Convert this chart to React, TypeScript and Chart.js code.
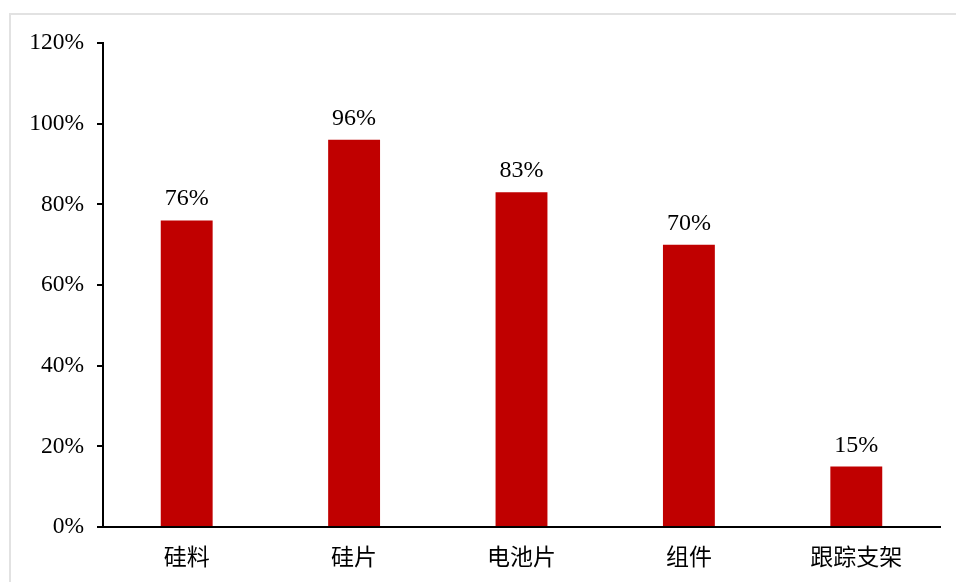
import React, { useEffect, useRef } from "react";
import { Chart, registerables } from "chart.js";

Chart.register(...registerables);

const categories = ["硅料", "硅片", "电池片", "组件", "跟踪支架"];
const shares = [76, 96, 83, 70, 15];
const yTicks = [0, 20, 40, 60, 80, 100, 120];

const valueLabels = {
  id: "valueLabels",
  afterDatasetsDraw(chart: any) {
    const ctx = chart.ctx;
    const meta = chart.getDatasetMeta(0);
    ctx.save();
    ctx.fillStyle = "#000";
    ctx.font = '24px "Liberation Serif", "Times New Roman", serif';
    ctx.textAlign = "center";
    ctx.textBaseline = "alphabetic";
    meta.data.forEach((bar: any, i: number) => {
      ctx.fillText(shares[i] + "%", bar.x, bar.y - 15);
    });
    ctx.restore();
  },
};

export default function App() {
  const ref = useRef<HTMLCanvasElement>(null);
  useEffect(() => {
    document.body.style.margin = "0";
    const chart = new Chart(ref.current!, {
      type: "bar",
      data: {
        labels: categories,
        datasets: [
          {
            data: shares,
            backgroundColor: "#C00000",
            categoryPercentage: 1,
            barPercentage: 0.31,
          },
        ],
      },
      options: {
        animation: false,
        responsive: false,
        layout: { padding: { top: 43, right: 16, left: 0, bottom: 0 } },
        plugins: { legend: { display: false }, tooltip: { enabled: false } },
        scales: {
          x: {
            grid: { display: false, drawTicks: false },
            border: { display: true, color: "#000", width: 2 },
            ticks: {
              color: "#000",
              padding: 15,
              font: { family: '"Noto Sans CJK SC", sans-serif', size: 23 },
            },
            afterFit: (s: any) => {
              s.height = 55;
            },
          },
          y: {
            min: 0,
            max: 120,
            afterBuildTicks: (s: any) => {
              s.ticks = yTicks.map((v) => ({ value: v }));
            },
            grid: {
              display: true,
              drawOnChartArea: false,
              drawTicks: true,
              tickLength: 6,
              color: "#000",
              lineWidth: 2,
            },
            border: { display: true, color: "#000", width: 2 },
            ticks: {
              color: "#000",
              padding: 13,
              callback: (v: any) => v + "%",
              font: { family: '"Liberation Serif", "Times New Roman", serif', size: 23.5 },
            },
            afterFit: (s: any) => {
              s.width = 103;
            },
          },
        },
      },
      plugins: [valueLabels],
    });
    return () => chart.destroy();
  }, []);
  return (
    <div style={{ position: "relative", width: 956, height: 582, background: "#fff", overflow: "hidden" }}>
      <canvas ref={ref} width={956} height={582} style={{ display: "block" }} />
      <div
        style={{
          position: "absolute",
          left: 9,
          top: 13,
          width: 1000,
          height: 1000,
          borderTop: "2px solid #e2e2e2",
          borderLeft: "2px solid #e2e2e2",
          pointerEvents: "none",
        }}
      />
    </div>
  );
}
